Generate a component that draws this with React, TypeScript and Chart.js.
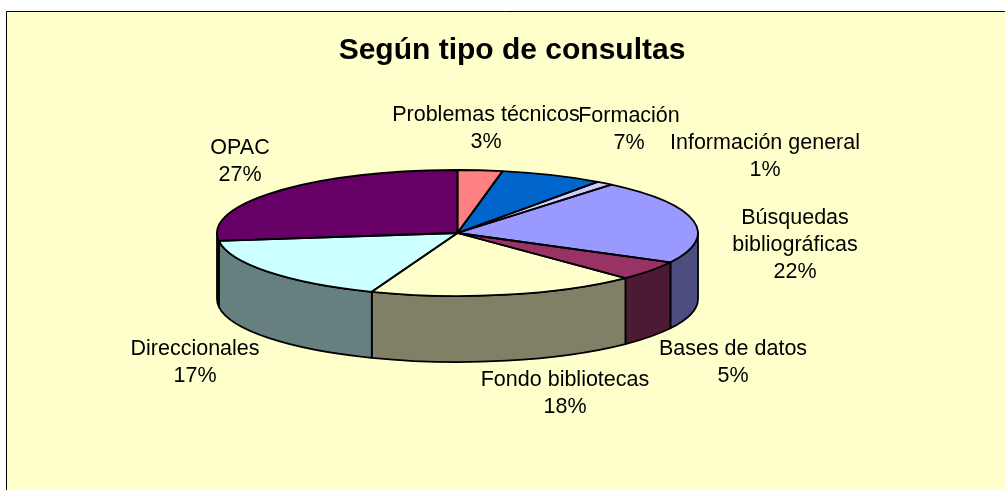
import React, { useEffect, useRef } from "react";
import { Chart, registerables } from "chart.js";

Chart.register(...registerables);

const TITLE = "Según tipo de consultas";
const categories = [
  "Problemas técnicos",
  "Formación",
  "Información general",
  "Búsquedas bibliográficas",
  "Bases de datos",
  "Fondo bibliotecas",
  "Direccionales",
  "OPAC",
];
const values = [3, 6.9, 1.15, 21.65, 5, 18.1, 17.2, 27];
const topColors = ["#FF8080", "#0066CC", "#CCCCFF", "#9999FF", "#993366", "#FFFFCC", "#CCFFFF", "#660066"];
const sideColors = ["#804040", "#003366", "#666680", "#4D4D80", "#4D1A33", "#808066", "#668080", "#330033"];
const labelLines = [
  ["Problemas técnicos"],
  ["Formación"],
  ["Información general"],
  ["Búsquedas", "bibliográficas"],
  ["Bases de datos"],
  ["Fondo bibliotecas"],
  ["Direccionales"],
  ["OPAC"],
];
// x centre and first-line baseline of each label, in pixels
const labelAnchors = [
  [486, 121],
  [629, 122],
  [765, 149],
  [795, 224],
  [733, 355],
  [565, 386],
  [195, 355],
  [240, 154],
];

const FONT = '"Liberation Sans", Arial, sans-serif';
const LABEL_SIZE = 21.5;
const LINE_H = 27;
const PIE_X = 457.5;
const PIE_Y = 233;
const RX = 240.5;
const RY = 63;
const DEPTH = 66;
const OUTLINE = 1.8;

const pie3d = {
  id: "pie3d",
  beforeDraw(chart: any) {
    const { ctx, width, height } = chart;
    ctx.save();
    ctx.fillStyle = "#FFFFFF";
    ctx.fillRect(0, 0, width, height);
    ctx.fillStyle = "#FFFFCC";
    ctx.fillRect(6, 11, width - 6, height - 11);
    ctx.strokeStyle = "#000000";
    ctx.lineWidth = 1;
    ctx.beginPath();
    ctx.moveTo(6.5, height);
    ctx.lineTo(6.5, 11.5);
    ctx.lineTo(width, 11.5);
    ctx.stroke();
    ctx.restore();
  },
  beforeDatasetsDraw(chart: any) {
    const { ctx } = chart;
    const arcs = chart.getDatasetMeta(0).data;
    // walls of the slices on the front half
    ctx.save();
    ctx.lineJoin = "round";
    ctx.lineWidth = OUTLINE;
    ctx.strokeStyle = "#000000";
    arcs.forEach((arc: any, i: number) => {
      const s = Math.max(arc.startAngle, 0);
      const e = Math.min(arc.endAngle, Math.PI);
      if (s >= e) return;
      ctx.beginPath();
      ctx.ellipse(PIE_X, PIE_Y, RX, RY, 0, s, e);
      ctx.ellipse(PIE_X, PIE_Y + DEPTH, RX, RY, 0, e, s, true);
      ctx.closePath();
      ctx.fillStyle = sideColors[i];
      ctx.fill();
      ctx.stroke();
    });
    ctx.restore();
    // the top face: the library's arcs, squashed into an ellipse
    const a = arcs[0];
    ctx.save();
    ctx.translate(PIE_X, PIE_Y);
    ctx.scale(1, RY / RX);
    ctx.translate(-a.x, -a.y);
  },
  afterDatasetsDraw(chart: any) {
    const { ctx } = chart;
    ctx.restore();
    const arcs = chart.getDatasetMeta(0).data;
    ctx.save();
    ctx.lineJoin = "round";
    ctx.lineWidth = OUTLINE;
    ctx.strokeStyle = "#000000";
    arcs.forEach((arc: any) => {
      ctx.beginPath();
      ctx.moveTo(PIE_X, PIE_Y);
      ctx.ellipse(PIE_X, PIE_Y, RX, RY, 0, arc.startAngle, arc.endAngle);
      ctx.closePath();
      ctx.stroke();
    });
    ctx.fillStyle = "#000000";
    ctx.font = `${LABEL_SIZE}px ${FONT}`;
    ctx.textAlign = "center";
    ctx.textBaseline = "alphabetic";
    chart.data.labels.forEach((_: string, i: number) => {
      const lines = [...labelLines[i], `${Math.round(chart.data.datasets[0].data[i])}%`];
      const [x, y] = labelAnchors[i];
      lines.forEach((t: string, k: number) => ctx.fillText(t, x, y + k * LINE_H));
    });
    ctx.restore();
  },
};

export default function App() {
  const ref = useRef<HTMLCanvasElement>(null);
  useEffect(() => {
    const chart = new Chart(ref.current as HTMLCanvasElement, {
      type: "pie",
      data: {
        labels: categories,
        datasets: [
          {
            data: values,
            backgroundColor: topColors,
            borderWidth: 0,
            radius: RX,
            clip: false,
          } as any,
        ],
      },
      options: {
        responsive: false,
        animation: false,
        layout: { padding: { left: 19, top: 33 } },
        plugins: {
          legend: { display: false },
          tooltip: { enabled: false },
          title: {
            display: true,
            text: TITLE,
            color: "#000000",
            font: { family: FONT, size: 30, weight: "bold" },
            padding: 0,
          },
        },
      },
      plugins: [pie3d],
    });
    return () => chart.destroy();
  }, []);
  return (
    <div style={{ position: "fixed", left: 0, top: 0 }}>
      <canvas ref={ref} width={1005} height={490} style={{ display: "block" }} />
    </div>
  );
}
